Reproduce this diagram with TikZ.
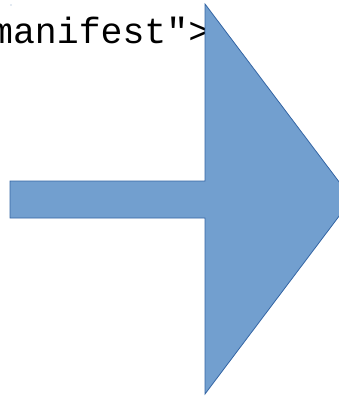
\documentclass[tikz,border=0pt]{standalone}
\usepackage{fontspec}
\setmonofont{Liberation Mono}
\definecolor{arrowfill}{RGB}{114,159,207}
\definecolor{arrowline}{RGB}{52,101,164}
\begin{document}
\begin{tikzpicture}[x=1pt,y=-1pt,
  bigarrow/.style={fill=arrowfill,draw=arrowline,line width=0.8pt,line join=miter},
  codetext/.style={font=\ttfamily\fontsize{36.5}{40}\selectfont,inner sep=0pt,anchor=base west}]
\useasboundingbox (0,0) rectangle (339,397);
\clip (0,0) rectangle (339,397);
\node[codetext] (code) at (-9,43) {manifest">};
\coordinate (s1) at (10,181);
\coordinate (s2) at (205,181);
\coordinate (h1) at (205,4);
\coordinate (tip) at (352,199);
\coordinate (h2) at (205,394);
\coordinate (s3) at (205,218);
\coordinate (s4) at (10,218);
\draw[bigarrow] (s1) -- (s2) -- (h1) -- (tip) -- (h2) -- (s3) -- (s4) -- cycle;
\fill[arrowline!60] (11,5) circle (0.6);
\end{tikzpicture}
\end{document}
